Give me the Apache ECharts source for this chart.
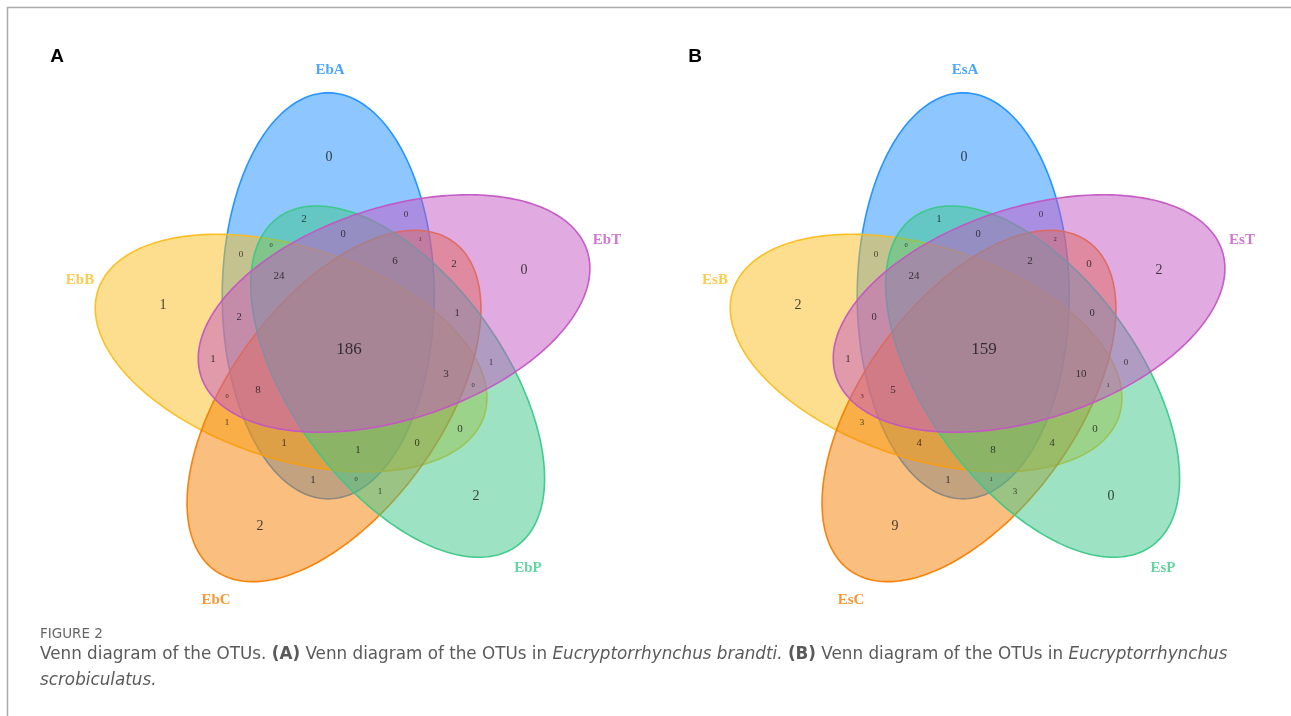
<!DOCTYPE html>
<html>
<head>
<meta charset="utf-8">
<script src="https://cdn.jsdelivr.net/npm/echarts@6/dist/echarts.min.js"></script>
<style>
  html, body { margin: 0; padding: 0; background: #ffffff; }
  #chart { width: 1291px; height: 716px; }
</style>
</head>
<body>
<div id="chart"></div>
<script>
// ---- data -------------------------------------------------------------
// Set names of the two panels (order: A, B, T, P, C)
const setNamesA = ['EbA', 'EbB', 'EbT', 'EbP', 'EbC'];
const setNamesB = ['EsA', 'EsB', 'EsT', 'EsP', 'EsC'];

// Each region is named by the sets sharing those OTUs
const regionKeys = [
  'A', 'B', 'T', 'P', 'C',
  'AB', 'AT', 'AP', 'AC', 'BT', 'BP', 'BC', 'TP', 'CT', 'PC',
  'ABT', 'ABP', 'ABC', 'ACT', 'ACP', 'APT', 'BCP', 'BCT', 'BPT', 'CPT',
  'ABPT', 'ABCT', 'ABCP', 'BCPT', 'ACPT',
  'ABCPT'
];

// OTU counts per region, Eucryptorrhynchus brandti
const otuCountsA = [
  0, 1, 0, 2, 2,
  0, 0, 2, 1, 1, 0, 1, 1, 2, 1,
  2, 0, 1, 1, 0, 0, 0, 0, 0, 1,
  24, 8, 1, 3, 6,
  186
];

// OTU counts per region, Eucryptorrhynchus scrobiculatus
const otuCountsB = [
  0, 2, 2, 0, 9,
  0, 0, 1, 1, 1, 0, 3, 0, 0, 3,
  0, 0, 4, 2, 1, 0, 4, 3, 1, 0,
  24, 5, 8, 10, 2,
  159
];

// ---- layout -----------------------------------------------------------
const W = 1291, H = 716;
const panelCenters = [[349, 350], [984, 350]];
const panelLetters = ['A', 'B'];
const panelLetterPos = [[57, 57], [695, 57]];

// five congruent ellipses, rotated 72 degrees apart around the panel centre
const ring = { radius: 58, semiMajor: 203, semiMinor: 106, phase: -111 };
// rotational slot of each set (A, B, T, P, C)
const setSlot = { A: 0, T: 1, P: 2, C: 3, B: 4 };
const setOrder = ['A', 'B', 'T', 'P', 'C'];
const drawOrder = ['A', 'B', 'C', 'P', 'T'];

const setColors = {
  A: [30, 144, 255],
  B: [250, 190, 30],
  T: [195, 85, 195],
  P: [60, 200, 135],
  C: [245, 125, 0]
};

const setLabelOffsets = {
  A: [-19, -280], B: [-269, -70], T: [258, -110], P: [179, 218], C: [-133, 250]
};

// label offsets from the panel centre and text size for each region
const regionLabelLayout = {
  A: [-20, -193, 14], B: [-186, -45, 14], T: [175, -80, 14], P: [127, 146, 14], C: [-89, 176, 14],
  AB: [-108, -95, 9], AT: [57, -135, 9], TP: [142, 13, 9], PC: [31, 142, 9], BC: [-122, 73, 9],
  AP: [-45, -131, 11], CT: [105, -86, 11], BP: [111, 79, 11], AC: [-36, 130, 11], BT: [-136, 9, 11],
  APT: [-6, -116, 10.5], CPT: [108, -37, 10.5], BCP: [68, 93, 10.5], ABC: [-65, 93, 10.5], ABT: [-110, -33, 10.5],
  ABP: [-78, -105, 6.5], ACT: [71, -111, 6.5], BPT: [124, 35, 6.5], ACP: [7, 129, 6.5], BCT: [-122, 46, 6.5],
  ACPT: [46, -89, 11], BCPT: [97, 24, 11], ABCP: [9, 100, 11], ABCT: [-91, 40, 11], ABPT: [-70, -74, 11],
  ABCPT: [0, 0, 17]
};

const serif = '"Liberation Serif", "DejaVu Serif", serif';
const sans = '"DejaVu Sans", "Open Sans", sans-serif';
const captionSize = 16.8;

function rgba(c, a) { return 'rgba(' + c[0] + ',' + c[1] + ',' + c[2] + ',' + a + ')'; }

function ellipseGeometry(panel, set) {
  const k = setSlot[set];
  const ca = (ring.phase + 72 * k) * Math.PI / 180;
  const c = panelCenters[panel];
  return {
    cx: c[0] + ring.radius * Math.cos(ca),
    cy: c[1] + ring.radius * Math.sin(ca),
    a: ring.semiMajor,
    b: ring.semiMinor,
    rot: (90 + 72 * k) * Math.PI / 180
  };
}

function ellipsePoints(g, api) {
  const pts = [];
  const n = 240;
  for (let i = 0; i < n; i++) {
    const u = (i / n) * Math.PI * 2;
    const x = g.a * Math.cos(u), y = g.b * Math.sin(u);
    const px = g.cx + x * Math.cos(g.rot) - y * Math.sin(g.rot);
    const py = g.cy + x * Math.sin(g.rot) + y * Math.cos(g.rot);
    pts.push(api.coord([px, py]));
  }
  return pts;
}

// ellipse items: [panel, index in setOrder]
const ellipseItems = [];
[0, 1].forEach(p => drawOrder.forEach(s => ellipseItems.push([p, setOrder.indexOf(s)])));

// set name labels
const setLabelItems = [];
[setNamesA, setNamesB].forEach((names, p) => {
  setOrder.forEach((s, i) => {
    const o = setLabelOffsets[s];
    setLabelItems.push({
      value: [panelCenters[p][0] + o[0], panelCenters[p][1] + o[1]],
      name: names[i],
      label: { color: rgba(setColors[s], 1) }
    });
  });
});

// region count labels
const countItems = [];
[otuCountsA, otuCountsB].forEach((counts, p) => {
  regionKeys.forEach((key, i) => {
    const l = regionLabelLayout[key];
    countItems.push({
      value: [panelCenters[p][0] + l[0], panelCenters[p][1] + l[1], counts[i]],
      name: key,
      label: { fontSize: l[2] }
    });
  });
});

const chart = echarts.init(document.getElementById('chart'), null, { renderer: 'canvas' });

chart.setOption({
  backgroundColor: '#ffffff',
  animation: false,
  grid: { left: 0, right: 0, top: 0, bottom: 0 },
  xAxis: { type: 'value', min: 0, max: W, show: false },
  yAxis: { type: 'value', min: 0, max: H, inverse: true, show: false },
  graphic: [
    { type: 'line', shape: { x1: 7, y1: 7.5, x2: W, y2: 7.5 }, style: { stroke: '#ababab', lineWidth: 1.5 }, silent: true },
    { type: 'line', shape: { x1: 7.5, y1: 7, x2: 7.5, y2: H }, style: { stroke: '#ababab', lineWidth: 1.5 }, silent: true },
    ...panelLetters.map((t, i) => ({
      type: 'text', x: panelLetterPos[i][0], y: panelLetterPos[i][1],
      style: { text: t, font: 'bold 19px "Liberation Sans", Arial, sans-serif', fill: '#000', align: 'center', verticalAlign: 'middle' }
    })),
    {
      type: 'text', x: 40, y: 634,
      style: { text: 'FIGURE 2', font: '13.5px ' + sans, fill: '#666', verticalAlign: 'middle' }
    },
    {
      type: 'text', x: 40, y: 655,
      style: {
        text: 'Venn diagram of the OTUs. {b|(A)} Venn diagram of the OTUs in {i|Eucryptorrhynchus brandti.} {b|(B)} Venn diagram of the OTUs in {i|Eucryptorrhynchus}',
        font: captionSize + 'px ' + sans, fill: '#5a5a5a', verticalAlign: 'middle',
        rich: {
          b: { fontWeight: 'bold', fontSize: captionSize, fontFamily: sans, fill: '#5a5a5a' },
          i: { fontStyle: 'italic', fontSize: captionSize, fontFamily: sans, fill: '#5a5a5a' }
        }
      }
    },
    {
      type: 'text', x: 40, y: 681,
      style: { text: 'scrobiculatus.', font: 'italic ' + captionSize + 'px ' + sans, fill: '#5a5a5a', verticalAlign: 'middle' }
    }
  ],
  series: [
    {
      type: 'custom',
      name: 'sets',
      coordinateSystem: 'cartesian2d',
      silent: true,
      data: ellipseItems,
      encode: { x: 0, y: 1 },
      renderItem: function (params, api) {
        const p = api.value(0);
        const s = setOrder[api.value(1)];
        const g = ellipseGeometry(p, s);
        return {
          type: 'polygon',
          shape: { points: ellipsePoints(g, api) },
          style: { fill: rgba(setColors[s], 0.5), stroke: rgba(setColors[s], 0.95), lineWidth: 1.6 }
        };
      },
      z: 1
    },
    {
      type: 'scatter',
      name: 'setNames',
      silent: true,
      symbolSize: 0,
      data: setLabelItems,
      label: {
        show: true, position: 'inside', formatter: p => p.name,
        fontFamily: serif, fontWeight: 'bold', fontSize: 15
      },
      z: 3
    },
    {
      type: 'scatter',
      name: 'otuCounts',
      silent: true,
      symbolSize: 0,
      data: countItems,
      label: {
        show: true, position: 'inside', formatter: p => String(p.value[2]),
        fontFamily: serif, color: '#151515'
      },
      z: 4
    }
  ]
});
</script>
</body>
</html>
